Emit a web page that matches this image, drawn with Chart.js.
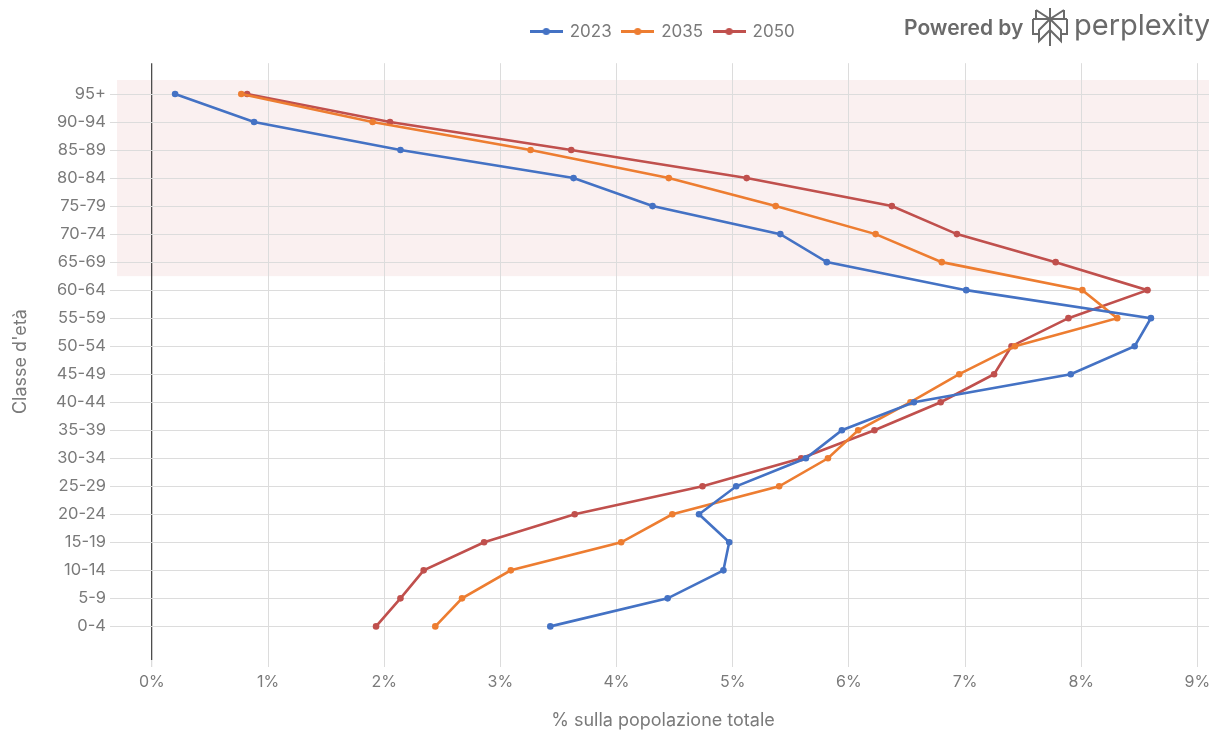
<!DOCTYPE html>
<html>
<head>
<meta charset="utf-8">
<script src="https://cdn.jsdelivr.net/npm/chart.js@4/dist/chart.umd.min.js"></script>
<style>
  html, body { margin: 0; padding: 0; background: #ffffff; }
  #wrap { width: 1209px; height: 731px; }
</style>
</head>
<body>
<div id="wrap"><canvas id="c" width="1209" height="731"></canvas></div>
<script>
// Age classes, youngest first (drawn bottom to top)
const ageClasses = ['0-4', '5-9', '10-14', '15-19', '20-24', '25-29', '30-34', '35-39', '40-44', '45-49',
                    '50-54', '55-59', '60-64', '65-69', '70-74', '75-79', '80-84', '85-89', '90-94', '95+'];

// Share of total population (%) per age class
const share2023 = [3.43, 4.44, 4.92, 4.97, 4.71, 5.03, 5.63, 5.94, 6.56, 7.91,
                   8.46, 8.60, 7.01, 5.81, 5.41, 4.31, 3.63, 2.14, 0.88, 0.20];
const share2035 = [2.44, 2.67, 3.09, 4.04, 4.48, 5.40, 5.82, 6.08, 6.53, 6.95,
                   7.43, 8.31, 8.01, 6.80, 6.23, 5.37, 4.45, 3.26, 1.90, 0.77];
const share2050 = [1.93, 2.14, 2.34, 2.86, 3.64, 4.74, 5.59, 6.22, 6.79, 7.25,
                   7.40, 7.89, 8.57, 7.78, 6.93, 6.37, 5.12, 3.61, 2.05, 0.82];

const seriesNames = ['2023', '2035', '2050'];
const xTickValues = [0, 1, 2, 3, 4, 5, 6, 7, 8, 9];

// Over-65 band: from the 65-69 class up to 95+
const bandFrom = '65-69';
const bandTo = '95+';

const COLORS = ['#4472C4', '#ED7D31', '#C0504D'];
const TEXT = '#7a7a7a';
const FONT = 'Inter, "Liberation Sans", Arial, sans-serif';

function toPoints(values) {
  return values.map((v, i) => ({ x: v, y: i }));
}

// Legend marker: short line with a dot in the middle
function legendMarker(color) {
  const c = document.createElement('canvas');
  c.width = 33; c.height = 9;
  const g = c.getContext('2d');
  g.strokeStyle = color; g.lineWidth = 3;
  g.beginPath(); g.moveTo(0, 4.5); g.lineTo(33, 4.5); g.stroke();
  g.fillStyle = color;
  g.beginPath(); g.arc(16.5, 4.5, 3.6, 0, Math.PI * 2); g.fill();
  return c;
}

const bandPlugin = {
  id: 'ageBand',
  beforeDraw(chart) {
    const { ctx, chartArea, scales } = chart;
    const top = scales.y.getPixelForValue(ageClasses.indexOf(bandTo) + 0.5);
    const bottom = scales.y.getPixelForValue(ageClasses.indexOf(bandFrom) - 0.5);
    ctx.save();
    ctx.fillStyle = 'rgba(192, 80, 77, 0.085)';
    ctx.fillRect(chartArea.left, top, chartArea.right - chartArea.left, bottom - top);
    ctx.restore();
  }
};

const brandPlugin = {
  id: 'brand',
  afterDraw(chart) {
    const ctx = chart.ctx;
    ctx.save();
    ctx.fillStyle = '#6a6a6a';
    ctx.textBaseline = 'alphabetic';
    ctx.textAlign = 'left';
    ctx.font = '600 21px ' + FONT;
    ctx.fillText('Powered by', 904, 35);
    // mark
    ctx.strokeStyle = '#6a6a6a';
    ctx.lineWidth = 2;
    ctx.lineJoin = 'miter';
    const cx = 1050, t = 8, b = 46;
    ctx.beginPath();
    ctx.moveTo(cx, t); ctx.lineTo(cx, b);
    ctx.moveTo(cx - 14, t + 2); ctx.lineTo(cx, 19); ctx.lineTo(cx + 14, t + 2);
    ctx.moveTo(cx - 14, t + 2); ctx.lineTo(cx - 14, 19);
    ctx.moveTo(cx + 14, t + 2); ctx.lineTo(cx + 14, 19);
    ctx.moveTo(cx - 17, 19); ctx.lineTo(cx + 17, 19);
    ctx.moveTo(cx - 17, 19); ctx.lineTo(cx - 17, 34); ctx.lineTo(cx - 11, 34);
    ctx.moveTo(cx + 17, 19); ctx.lineTo(cx + 17, 34); ctx.lineTo(cx + 11, 34);
    ctx.moveTo(cx, 19); ctx.lineTo(cx - 11, 30); ctx.lineTo(cx - 11, 41); ctx.lineTo(cx, 30);
    ctx.moveTo(cx, 19); ctx.lineTo(cx + 11, 30); ctx.lineTo(cx + 11, 41); ctx.lineTo(cx, 30);
    ctx.stroke();
    ctx.font = '400 29px ' + FONT;
    ctx.fillText('perplexity', 1074, 35);
    ctx.restore();
  }
};

const datasets = [share2023, share2035, share2050].map((vals, k) => ({
  label: seriesNames[k],
  data: toPoints(vals),
  borderColor: COLORS[k],
  backgroundColor: COLORS[k],
  borderWidth: 2.6,
  pointRadius: 3.3,
  pointHoverRadius: 4,
  pointBorderWidth: 0,
  tension: 0,
  fill: false
}));

new Chart(document.getElementById('c'), {
  type: 'line',
  data: { datasets },
  plugins: [bandPlugin, brandPlugin],
  options: {
    responsive: false,
    animation: false,
    layout: { autoPadding: false, padding: { top: 12, right: 0, bottom: 0, left: 0 } },
    plugins: {
      tooltip: { enabled: false },
      legend: {
        position: 'top',
        fullSize: false,
        labels: {
          color: TEXT,
          font: { family: FONT, size: 17 },
          usePointStyle: true,
          pointStyleWidth: 30,
          boxHeight: 17,
          padding: 11,
          generateLabels(chart) {
            const items = Chart.defaults.plugins.legend.labels.generateLabels(chart);
            items.forEach((it, i) => { it.pointStyle = legendMarker(COLORS[i]); });
            return items;
          }
        }
      },
      // empty spacer between the legend and the plot
      subtitle: {
        display: true,
        text: '',
        weight: 500,
        fullSize: false,
        font: { size: 1 },
        padding: { top: 6, bottom: 6 }
      }
    },
    scales: {
      x: {
        type: 'linear',
        min: -0.3,
        max: 9.1,
        afterBuildTicks(scale) { scale.ticks = xTickValues.map(v => ({ value: v })); },
        afterFit(scale) {
          scale.height = 71;
          scale.paddingLeft = 0;
          scale.paddingRight = 0;
        },
        border: { display: false },
        grid: {
          color: ctx => (ctx.tick && ctx.tick.value === 0 ? '#4d4d4d' : '#dcdcdc'),
          lineWidth: ctx => (ctx.tick && ctx.tick.value === 0 ? 1.3 : 1),
          tickColor: '#dcdcdc',
          tickLength: 7
        },
        ticks: {
          color: TEXT,
          font: { family: FONT, size: 16 },
          padding: 6,
          callback: v => v + '%'
        },
        title: {
          display: true,
          text: '% sulla popolazione totale',
          color: TEXT,
          font: { family: FONT, size: 18 },
          padding: { top: 8, bottom: 0 }
        }
      },
      y: {
        type: 'linear',
        min: -1.2,
        max: 20.1,
        afterBuildTicks(scale) { scale.ticks = ageClasses.map((_, i) => ({ value: i })); },
        afterFit(scale) { scale.width = 117; },
        border: { display: false },
        grid: { color: '#dcdcdc', tickColor: '#dcdcdc', tickLength: 7 },
        ticks: {
          color: TEXT,
          font: { family: FONT, size: 16.5 },
          padding: 4,
          callback: v => ageClasses[v]
        },
        title: {
          display: true,
          text: "Classe d'età",
          color: TEXT,
          font: { family: FONT, size: 18 },
          padding: { top: 10, bottom: 0 }
        }
      }
    }
  }
});
</script>
</body>
</html>
